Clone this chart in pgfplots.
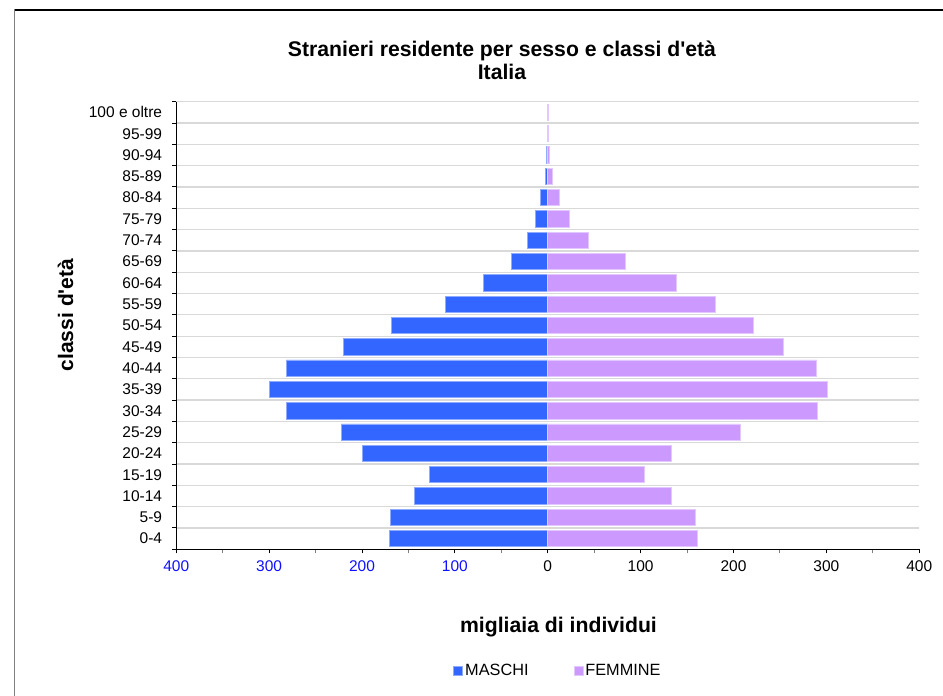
\documentclass[border=0pt]{standalone}
\usepackage{pgfplots}
\pgfplotsset{compat=1.18}
\usepackage{fontspec}
\setmainfont{Liberation Sans}
\definecolor{maschi}{HTML}{3366FF}
\definecolor{femmine}{HTML}{CC99FF}
\definecolor{gridc}{HTML}{D9D9D9}
\definecolor{tickblue}{HTML}{1010FF}
\begin{document}
\begin{tikzpicture}[x=1pt,y=1pt]
\path[use as bounding box] (0,0) rectangle (943,696);
\draw[black, line width=1.2pt] (14.5,686) -- (943,686);
\draw[gray, line width=1.2pt] (14.5,686.6) -- (14.5,0);
\begin{axis}[
  at={(176.3pt,146.7pt)}, anchor=south west,
  scale only axis, width=743pt, height=447.6pt,
  xmin=-400, xmax=400, ymin=-0.5, ymax=20.5,
  axis x line*=bottom, axis y line*=left,
  axis line style={black, line width=1.2pt},
  tick align=outside, major tick length=4pt, minor tick length=4pt,
  tick style={black, line width=1pt},
  minor tick style={gray, line width=1pt},
  xtick={-400,-300,...,400},
  xticklabels={\textcolor{tickblue}{400},\textcolor{tickblue}{300},\textcolor{tickblue}{200},\textcolor{tickblue}{100},0,100,200,300,400},
  minor xtick={-350,-250,...,350},
  ytick={-0.5,0.5,...,20.5}, yticklabels={},
  ymajorgrids, major grid style={gridc, line width=1.3pt},
  extra y ticks={0,1,...,20},
  extra y tick labels={0-4,5-9,10-14,15-19,20-24,25-29,30-34,35-39,40-44,45-49,50-54,55-59,60-64,65-69,70-74,75-79,80-84,85-89,90-94,95-99,100 e oltre},
  extra y tick style={grid=none, major tick length=0pt},
  tick label style={font=\fontsize{15.5}{18}\selectfont},
  yticklabel style={inner sep=0pt, xshift=-14pt},
  xticklabel style={inner sep=0pt, yshift=-7pt},
  xbar, bar width=16.3pt, bar shift=0pt,
  legend style={at={(0.5137,-0.2708)}, anchor=center, draw=none, fill=none,
    legend columns=2, font=\fontsize{16.3}{19}\selectfont,
    /tikz/every even column/.append style={column sep=43pt}},
  legend image code/.code={\fill[#1] (0pt,-4.5pt) rectangle (9pt,4.5pt);},
]
\addplot[xbar, fill=maschi, draw=maschi!55!white, line width=0.8pt] coordinates {
(-170.9,0) (-169.4,1) (-143.9,2) (-127.4,3) (-199.9,4) (-222.5,5) (-281.8,6)
(-300.1,7) (-281.4,8) (-220.4,9) (-168.3,10) (-110.2,11) (-69.6,12) (-39.5,13)
(-21.9,14) (-12.9,15) (-7.9,16) (-2.9,17) (-1.0,18) (-0.2,19) (-0.1,20)};
\addlegendentry{MASCHI}
\addplot[xbar, fill=femmine, draw=femmine!55!white, line width=0.8pt] coordinates {
(161.2,0) (158.7,1) (133.2,2) (104.5,3) (133.5,4) (207.1,5) (290.0,6)
(301.5,7) (289.7,8) (253.8,9) (221.5,10) (180.2,11) (138.9,12) (84.0,13)
(43.8,14) (23.0,15) (12.9,16) (5.0,17) (1.8,18) (0.7,19) (0.6,20)};
\addlegendentry{FEMMINE}
\end{axis}
\node[anchor=base, font=\bfseries\fontsize{21.2}{24}\selectfont] at (502,639) {Stranieri residente per sesso e classi d\textquotesingle età};
\node[anchor=base, font=\bfseries\fontsize{21.2}{24}\selectfont] at (502,616) {Italia};
\node[anchor=base, font=\bfseries\fontsize{21.2}{24}\selectfont] at (558.5,63) {migliaia di individui};
\node[rotate=90, font=\bfseries\fontsize{21}{24}\selectfont] at (65.5,381) {classi d\textquotesingle età};
\end{tikzpicture}
\end{document}
